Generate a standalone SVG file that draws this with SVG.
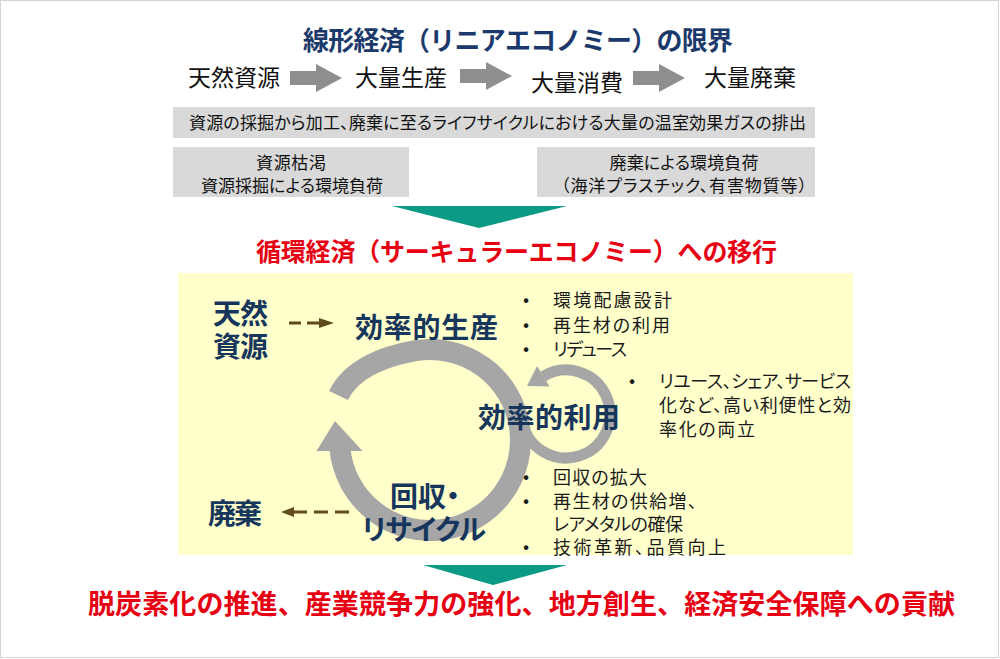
<svg xmlns="http://www.w3.org/2000/svg" width="1000" height="659" viewBox="0 0 1000 659">
<defs>
<style>
text{font-family:"Noto Sans CJK JP","Noto Sans CJK SC",sans-serif;font-feature-settings:"palt" 1;}
.ttl{font-size:26px;font-weight:700;fill:#1b3a6b;font-feature-settings:normal;}
.row{font-size:23px;fill:#111;}
.bar{font-size:17px;fill:#111;}
.red{font-weight:700;fill:#e60012;font-feature-settings:normal;}
.nv{font-size:28px;font-weight:700;fill:#16365c;}
.bl{font-size:18px;fill:#1a1a1a;}
.gbox{fill:#d9d9d9;}
.garr{fill:#8e8e8e;}
.teal{fill:#0b9a85;}
.ring{fill:none;stroke:#a6a6a6;stroke-width:21;}
.loop{fill:none;stroke:#a6a6a6;stroke-width:11;}
.gh{fill:#a6a6a6;}
.dash{stroke:#5f4b1b;stroke-width:3;fill:none;}
.dh{fill:#5f4b1b;}
</style>
</defs>
<rect x="0.5" y="0.5" width="998" height="657" fill="#fff" stroke="#d4d4d4" stroke-width="1"/>

<g id="title-linear">
<text class="ttl" x="303" y="50" textLength="430">線形経済（リニアエコノミー）の限界</text>
</g>
<g id="n-natural"><text class="row" x="188" y="86" textLength="92">天然資源</text></g>
<g id="n-production"><text class="row" x="355" y="86" textLength="92">大量生産</text></g>
<g id="n-consumption"><text class="row" x="531" y="91" textLength="92">大量消費</text></g>
<g id="n-disposal"><text class="row" x="704" y="86" textLength="92">大量廃棄</text></g>

<g id="n-ghg">
<rect class="gbox" x="173" y="107" width="642" height="31"/>
<text class="bar" x="189" y="129" textLength="617">資源の採掘から加工、廃棄に至るライフサイクルにおける大量の温室効果ガスの排出</text>
</g>
<g id="n-depletion">
<rect class="gbox" x="173" y="147" width="236" height="50"/>
<text class="bar" x="291" y="169" text-anchor="middle" textLength="70">資源枯渇</text>
<text class="bar" x="292" y="192" text-anchor="middle" textLength="182">資源採掘による環境負荷</text>
</g>
<g id="n-waste-impact">
<rect class="gbox" x="537" y="147" width="278" height="50"/>
<text class="bar" x="684" y="169" text-anchor="middle" textLength="149">廃棄による環境負荷</text>
<text class="bar" x="684" y="192" text-anchor="middle" textLength="246">（海洋プラスチック、有害物質等）</text>
</g>

<g id="tri-1"><polygon class="teal" points="392,206 567,206 479,228"/></g>

<g id="title-circular">
<text class="red" x="256" y="261" font-size="25" textLength="521">循環経済（サーキュラーエコノミー）への移行</text>
</g>

<rect id="panel" x="178" y="273" width="675" height="282" fill="#ffffcc"/>

<g id="connectors">
<polygon class="garr" points="290,71 316,71 316,64 342,78 316,92 316,85 290,85"/>
<polygon class="garr" points="460,69 486,69 486,62 512,76 486,90 486,83 460,83"/>
<polygon class="garr" points="633,71 659,71 659,64 685,78 659,92 659,85 633,85"/>
<line class="dash" x1="289" y1="323" x2="320" y2="323" stroke-dasharray="12 6"/>
<polygon class="dh" points="319,318 334,323 319,328"/>
<line class="dash" x1="349" y1="512" x2="292" y2="512" stroke-dasharray="14 7"/>
<polygon class="dh" points="294,507 281,512 294,517"/>
<path class="loop" d="M522.7,421.6 A44,44 0 1 0 543.3,376.3"/>
<polygon class="gh" points="549.5,386.6 527,386.1 537.1,366"/>
<path class="ring" d="M338.5,395.5 C351.6,368.5 384.8,356.1 414.3,350.9 A90.5,90.5 0 1 1 340,449.5"/>
<polygon class="gh" points="335,421 316.5,451 362.5,451"/>
</g>

<g id="n-natural-2">
<text class="nv" x="213" y="324" font-size="26" textLength="55">天然</text>
<text class="nv" x="213" y="357" font-size="26" textLength="55">資源</text>
</g>
<g id="n-eff-prod"><text class="nv" x="355" y="338" textLength="143">効率的生産</text></g>
<g id="n-eff-prod-notes">
<text class="bl" x="523" y="306">•</text>
<text class="bl" x="553" y="307" textLength="119">環境配慮設計</text>
<text class="bl" x="523" y="331">•</text>
<text class="bl" x="553" y="332" textLength="117">再生材の利用</text>
<text class="bl" x="523" y="355">•</text>
<text class="bl" x="553" y="356" textLength="74">リデュース</text>
</g>
<g id="n-eff-use"><text class="nv" x="478" y="428" textLength="142">効率的利用</text></g>
<g id="n-eff-use-notes">
<text class="bl" x="629" y="387">•</text>
<text class="bl" x="659" y="388" textLength="192">リユース、シェア、サービス</text>
<text class="bl" x="659" y="412" textLength="192">化など、高い利便性と効</text>
<text class="bl" x="659" y="436" textLength="96">率化の両立</text>
</g>
<g id="n-recycle">
<text class="nv" x="390" y="507" textLength="70">回収・</text>
<text class="nv" x="362" y="540" textLength="124">リサイクル</text>
</g>
<g id="n-recycle-notes">
<text class="bl" x="523" y="483">•</text>
<text class="bl" x="553" y="484" textLength="94">回収の拡大</text>
<text class="bl" x="523" y="507">•</text>
<text class="bl" x="553" y="508" textLength="144">再生材の供給増、</text>
<text class="bl" x="553" y="531" textLength="130">レアメタルの確保</text>
<text class="bl" x="523" y="553">•</text>
<text class="bl" x="553" y="554" textLength="173">技術革新、品質向上</text>
</g>
<g id="n-disposal-2"><text class="nv" x="208" y="524" font-size="27" textLength="54">廃棄</text></g>

<g id="tri-2"><polygon class="teal" points="423,565 567,565 493,585"/></g>

<g id="result">
<text class="red" x="88" y="614" font-size="27" textLength="867">脱炭素化の推進、産業競争力の強化、地方創生、経済安全保障への貢献</text>
</g>
</svg>
